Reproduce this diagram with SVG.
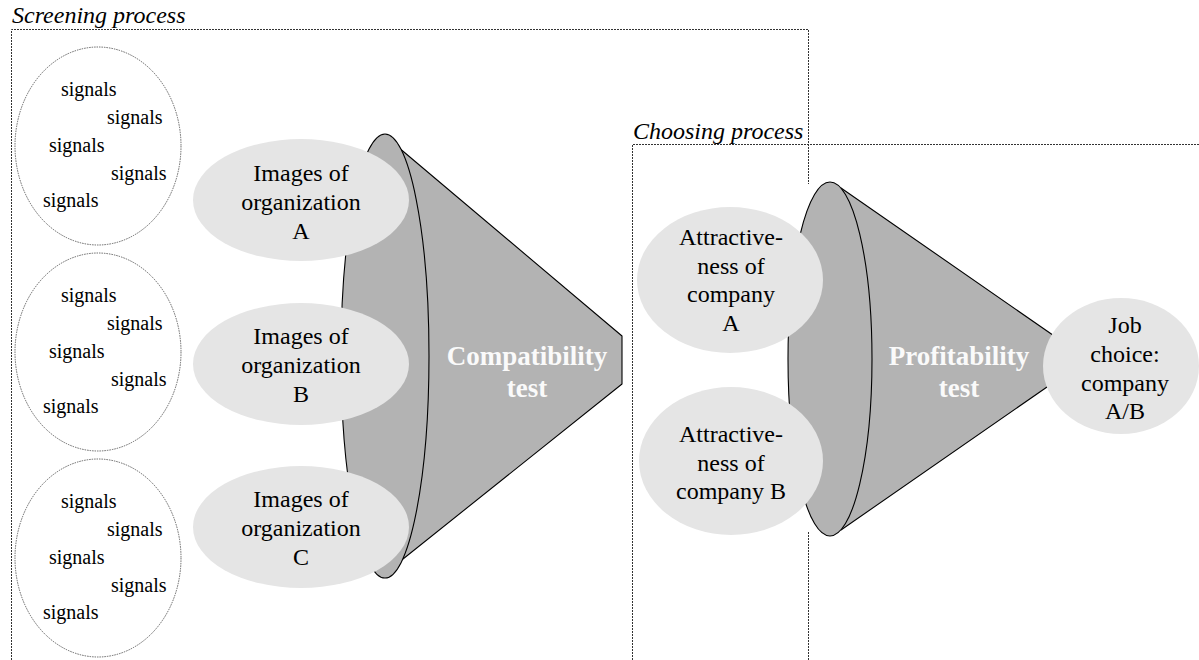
<svg xmlns="http://www.w3.org/2000/svg" width="1199" height="660" viewBox="0 0 1199 660">
<style>
.box{fill:none;stroke:#333;stroke-width:1;stroke-dasharray:2 1}
.sig{fill:#fff;stroke:#555;stroke-width:0.9;stroke-dasharray:1.5 1}
.st{font-family:'Liberation Serif','DejaVu Serif',serif;font-size:20px;fill:#000}
.cone{fill:#b3b3b3;stroke:#000;stroke-width:1.1;stroke-linejoin:round}
.bub{fill:#e5e5e5;stroke:none}
.lbl{font-family:'Liberation Serif','DejaVu Serif',serif;font-size:24px;fill:#000;text-anchor:middle}
.ttl{font-family:'Liberation Serif','DejaVu Serif',serif;font-size:24px;font-style:italic;fill:#000}
.test{font-family:'Liberation Serif','DejaVu Serif',serif;font-size:27px;font-weight:bold;fill:#fafafa;text-anchor:middle}
</style>
<rect width="1199" height="660" fill="#fff"/>
<g id="screening-box">
<path class="box" d="M11.5,660 V29.5 H808.5 V184 M808.5,532 V660"/>
<text class="ttl" x="12" y="23">Screening process</text>
</g>
<g id="choosing-box">
<path class="box" d="M632.5,660 V144.5 H1199"/>
<text class="ttl" x="633" y="139">Choosing process</text>
</g>
<g id="signals-1">
<ellipse class="sig" cx="98" cy="146" rx="83" ry="99"/>
<text class="st" x="61" y="96">signals</text>
<text class="st" x="107" y="124">signals</text>
<text class="st" x="49" y="152">signals</text>
<text class="st" x="111" y="180">signals</text>
<text class="st" x="43" y="207">signals</text>
</g>
<g id="signals-2">
<ellipse class="sig" cx="98" cy="352" rx="83" ry="99"/>
<text class="st" x="61" y="302">signals</text>
<text class="st" x="107" y="330">signals</text>
<text class="st" x="49" y="358">signals</text>
<text class="st" x="111" y="386">signals</text>
<text class="st" x="43" y="413">signals</text>
</g>
<g id="signals-3">
<ellipse class="sig" cx="98" cy="558" rx="83" ry="99"/>
<text class="st" x="61" y="508">signals</text>
<text class="st" x="107" y="536">signals</text>
<text class="st" x="49" y="564">signals</text>
<text class="st" x="111" y="592">signals</text>
<text class="st" x="43" y="619">signals</text>
</g>
<g id="compatibility-test">
<polygon class="cone" points="398,147 622,336 622,384 398,563"/>
<ellipse class="cone" cx="385" cy="356" rx="44" ry="222"/>
<text class="test" x="527" y="365">Compatibility</text>
<text class="test" x="527" y="397">test</text>
</g>
<g id="profitability-test">
<polygon class="cone" points="841,188 1060,340 1060,378 841,530"/>
<ellipse class="cone" cx="830" cy="359" rx="42" ry="177"/>
<text class="test" x="959" y="365">Profitability</text>
<text class="test" x="959" y="397">test</text>
</g>
<g id="images-a">
<ellipse class="bub" cx="301" cy="200" rx="108" ry="61"/>
<text class="lbl" x="301" y="181">Images of</text>
<text class="lbl" x="301" y="210">organization</text>
<text class="lbl" x="301" y="239">A</text>
</g>
<g id="images-b">
<ellipse class="bub" cx="301" cy="364" rx="108" ry="61"/>
<text class="lbl" x="301" y="344">Images of</text>
<text class="lbl" x="301" y="373">organization</text>
<text class="lbl" x="301" y="402">B</text>
</g>
<g id="images-c">
<ellipse class="bub" cx="301" cy="527" rx="108" ry="61"/>
<text class="lbl" x="301" y="507">Images of</text>
<text class="lbl" x="301" y="536">organization</text>
<text class="lbl" x="301" y="565">C</text>
</g>
<g id="attractiveness-a">
<ellipse class="bub" cx="730" cy="280" rx="93" ry="73"/>
<text class="lbl" x="731" y="245">Attractive-</text>
<text class="lbl" x="731" y="274">ness of</text>
<text class="lbl" x="731" y="302">company</text>
<text class="lbl" x="731" y="331">A</text>
</g>
<g id="attractiveness-b">
<ellipse class="bub" cx="731" cy="461" rx="92" ry="74"/>
<text class="lbl" x="731" y="442">Attractive-</text>
<text class="lbl" x="731" y="471">ness of</text>
<text class="lbl" x="731" y="499">company B</text>
</g>
<g id="job-choice">
<ellipse class="bub" cx="1121" cy="366" rx="78" ry="68"/>
<text class="lbl" x="1125" y="333">Job</text>
<text class="lbl" x="1125" y="362">choice:</text>
<text class="lbl" x="1125" y="391">company</text>
<text class="lbl" x="1125" y="419">A/B</text>
</g>
<g id="connectors"/>
</svg>
